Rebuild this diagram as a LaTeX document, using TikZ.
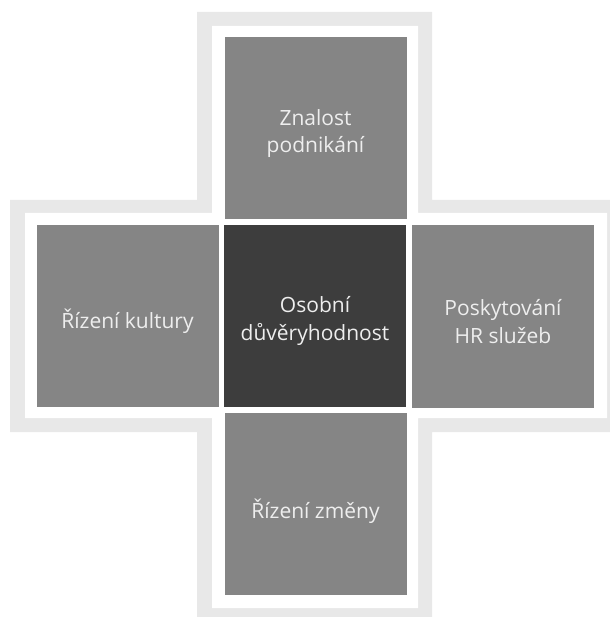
\documentclass[tikz,border=0pt]{standalone}
\usepackage{fontspec}
\setmainfont{Open Sans}
\definecolor{boxgray}{HTML}{858585}
\definecolor{darkbox}{HTML}{3D3D3D}
\definecolor{bandgray}{HTML}{E8E8E8}
\definecolor{txt}{HTML}{EEEEEE}
\begin{document}
\begin{tikzpicture}[x=1pt,y=-1pt,
  tile/.style={fill=boxgray,draw=none,minimum width=182pt,minimum height=182pt,inner sep=0pt},
  centertile/.style={tile,fill=darkbox},
  lbl/.style={text=txt,align=center,font=\fontsize{21}{27.5}\selectfont,inner sep=0pt,yshift=-5pt}]
\useasboundingbox (0,0) rectangle (609,617);
% outer band (cross outline)
\fill[bandgray] (197,12) -- (432,12) -- (432,200) -- (625,200) -- (625,432) -- (432,432) -- (432,625)
  -- (197,625) -- (197,432) -- (10,432) -- (10,200) -- (197,200) -- cycle;
\fill[white] (212,26) -- (418,26) -- (418,213) -- (607,213) -- (607,418) -- (418,418) -- (418,608)
  -- (212,608) -- (212,418) -- (25,418) -- (25,213) -- (212,213) -- cycle;
\node[centertile,label={[lbl]center:{Osobní\\důvěryhodnost}}] (c) at (315,316) {};
\node[tile,label={[lbl]center:{Znalost\\podnikání}}] (t) at (315.5,128.5) {};
\node[tile,label={[lbl]center:{Řízení kultury}}] (l) at (127.5,316) {};
\node[tile,label={[lbl]center:{Poskytování\\HR služeb}}] (r) at (503,316.5) {};
\node[tile,label={[lbl,yshift=-2pt]center:{Řízení změny}}] (b) at (315.5,504) {};
\end{tikzpicture}
\end{document}
